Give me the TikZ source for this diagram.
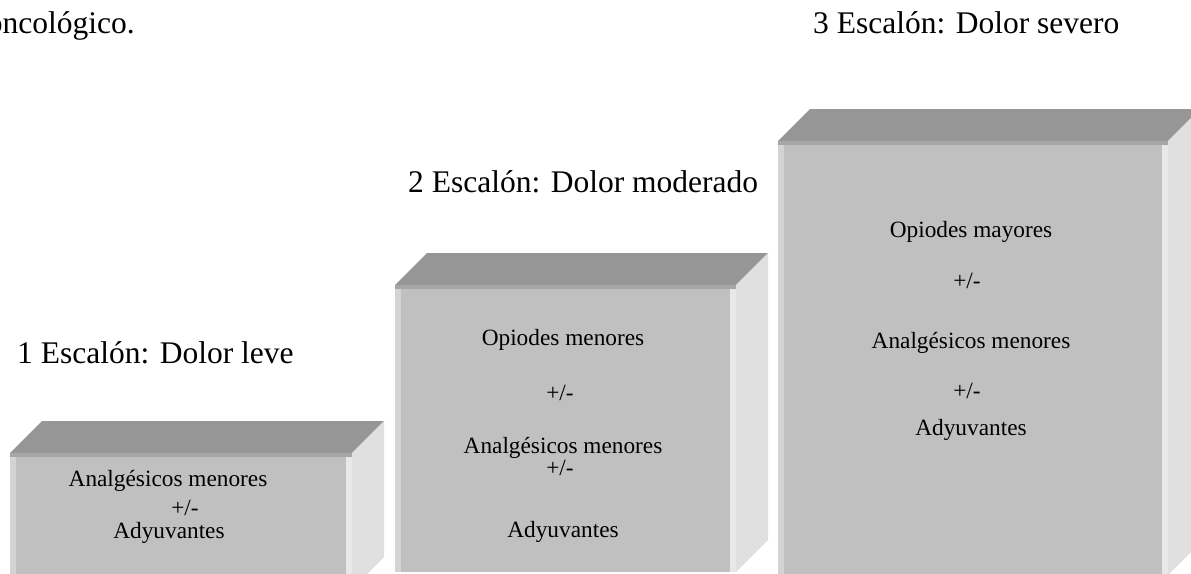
\documentclass[tikz,border=0pt]{standalone}
\usepackage{fontspec}
\setmainfont{Liberation Serif}
\definecolor{STEPtop}{RGB}{150,150,150}
\definecolor{STEPtopedge}{RGB}{166,166,166}
\definecolor{STEPfront}{RGB}{192,192,192}
\definecolor{STEPleft}{RGB}{212,212,212}
\definecolor{STEPright}{RGB}{232,232,232}
\definecolor{STEPside}{RGB}{224,224,224}
\tikzset{
  steptitle/.style={inner sep=0pt, anchor=base west, font=\fontsize{31.5}{36}\selectfont},
  stepitem/.style={inner sep=0pt, anchor=base, font=\fontsize{23.3}{28}\selectfont}
}

\begin{document}
\begin{tikzpicture}[x=1pt, y=-1pt]
	\useasboundingbox (0,0) rectangle (1191,573);
	\def\d{32}
	% the three steps: left, front right, front top, bottom
	\foreach \l/\w/\t/\b in {10/352/453/589, 395/736/285/572, 778/1168/141/575}{
		\fill[STEPtop] (\l,\t) -- (\l+\d,\t-\d) -- (\w+\d,\t-\d) -- (\w,\t) -- cycle;
		\fill[STEPside] (\w,\t) -- (\w+\d,\t-\d) -- (\w+\d,\b-\d) -- (\w,\b) -- cycle;
		\fill[STEPfront] (\l,\t) rectangle (\w,\b);
		\fill[STEPtopedge] (\l,\t) rectangle (\w,\t+4);
		\fill[STEPleft] (\l,\t+4) rectangle (\l+6,\b);
		\fill[STEPright] (\w-6,\t+4) rectangle (\w,\b);
	}
	\node[steptitle, anchor=base east] (intro) at (135,33) {oncológico.};
	\node[steptitle] (t1) at (17,363) {1 Escalón: Dolor leve};
	\node[steptitle] (t2) at (408,192) {2 Escalón: Dolor moderado};
	\node[steptitle] (t3) at (813,33) {3 Escalón: Dolor severo};
	% step 1
	\node[stepitem] (a1) at (168,486) {Analgésicos menores};
	\node[stepitem] (p1) at (185,515) {+/-};
	\node[stepitem] (y1) at (169,538) {Adyuvantes};
	% step 2
	\node[stepitem] (o2) at (563,345) {Opiodes menores};
	\node[stepitem] (p2a) at (560,400) {+/-};
	\node[stepitem] (a2) at (563,453) {Analgésicos menores};
	\node[stepitem] (p2b) at (560,475) {+/-};
	\node[stepitem] (y2) at (563,537) {Adyuvantes};
	% step 3
	\node[stepitem] (o3) at (971,237) {Opiodes mayores};
	\node[stepitem] (p3a) at (967,288) {+/-};
	\node[stepitem] (a3) at (971,348) {Analgésicos menores};
	\node[stepitem] (p3b) at (967,398) {+/-};
	\node[stepitem] (y3) at (971,435) {Adyuvantes};
\end{tikzpicture}
\end{document}
